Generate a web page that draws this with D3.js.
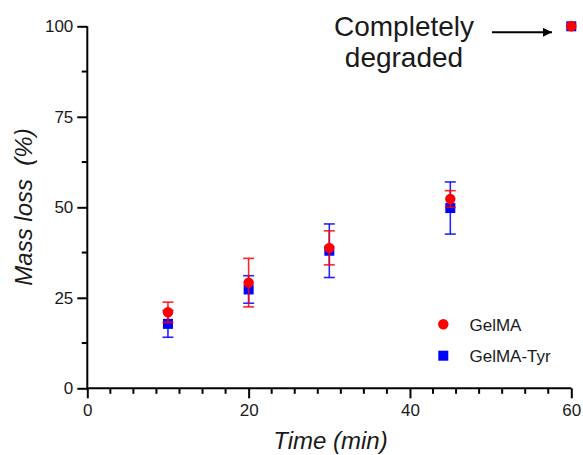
<!DOCTYPE html>
<html>
<head>
<meta charset="utf-8">
<script src="https://cdn.jsdelivr.net/npm/d3@7"></script>
<style>
  html, body { margin: 0; padding: 0; background: #fff; }
  svg { display: block; font-family: "Liberation Sans", Arial, sans-serif; }
</style>
</head>
<body>
<svg id="chart" width="583" height="455"></svg>
<script>
// ---- data ----
const times = [10, 20, 30, 45, 60];
const gelmaMean = [21.0, 29.2, 38.8, 52.3, 100];
const gelmaErr  = [2.8, 6.7, 4.7, 2.3, 0];
const tyrMean   = [17.8, 27.3, 38.0, 49.8, 100];
const tyrErr    = [3.7, 3.8, 7.4, 7.2, 0];
const xTicks = [0, 20, 40, 60];
const yTicks = [0, 25, 50, 75, 100];
const seriesNames = ["GelMA", "GelMA-Tyr"];
const annotation = ["Completely", "degraded"];

// ---- layout ----
const svg = d3.select("#chart");
const x = d3.scaleLinear().domain([0, 60]).range([87.3, 571.3]);
const y = d3.scaleLinear().domain([0, 100]).range([388.3, 26.3]);
const axisColor = "#000";
const textColor = "#1a1a1a";

// minor ticks
const xMinor = d3.range(0, 61, 20 / 7).filter(v => !xTicks.some(t => Math.abs(t - v) < 1e-6));
const yMinor = [12.5, 37.5, 62.5, 87.5];

const xAxis = d3.axisBottom(x).tickValues(xTicks).tickSize(10).tickSizeOuter(0).tickPadding(6).tickFormat(d3.format("d"));
const yAxis = d3.axisLeft(y).tickValues(yTicks).tickSize(10).tickSizeOuter(0).tickPadding(4).tickFormat(d3.format("d"));

const gx = svg.append("g").attr("transform", `translate(0,${y(0)})`).call(xAxis);
const gy = svg.append("g").attr("transform", `translate(${x(0)},0)`).call(yAxis);
[gx, gy].forEach(g => {
  g.select(".domain").attr("stroke", axisColor).attr("stroke-width", 2);
  g.selectAll(".tick line").attr("stroke", axisColor).attr("stroke-width", 2);
  g.selectAll(".tick text").attr("fill", textColor).style("font-size", "17px")
    .style("font-family", "'Liberation Sans', Arial, sans-serif");
});
// extend domains to meet at corner
gx.select(".domain").attr("d", `M${x(0) - 1},0H${x(60)}`);
gy.select(".domain").attr("d", `M0,${y(100)}V${y(0) + 1}`);

svg.append("g").selectAll("line").data(xMinor).join("line")
  .attr("x1", d => x(d)).attr("x2", d => x(d))
  .attr("y1", y(0)).attr("y2", y(0) + 5.5)
  .attr("stroke", axisColor).attr("stroke-width", 2);
svg.append("g").selectAll("line").data(yMinor).join("line")
  .attr("y1", d => y(d)).attr("y2", d => y(d))
  .attr("x1", x(0)).attr("x2", x(0) - 5.5)
  .attr("stroke", axisColor).attr("stroke-width", 2);

// axis titles
svg.append("text").attr("x", 330.5).attr("y", 449)
  .attr("text-anchor", "middle").attr("fill", textColor)
  .style("font-size", "24px").style("font-style", "italic")
  .text("Time (min)");
svg.append("text")
  .attr("transform", "translate(32,207) rotate(-90)")
  .attr("text-anchor", "middle").attr("fill", textColor)
  .style("font-size", "24px").style("font-style", "italic")
  .style("white-space", "pre")
  .text("Mass loss  (%)");

// ---- data marks ----
const capHalf = 5.5;
function drawSeries(means, errs, color, shape) {
  const data = times.map((t, i) => ({ t, m: means[i], e: errs[i] }));
  const g = svg.append("g");
  const eb = g.append("g").attr("stroke", color).attr("stroke-width", 1.6).attr("stroke-opacity", 0.85);
  data.filter(d => d.e > 0).forEach(d => {
    eb.append("line").attr("x1", x(d.t)).attr("x2", x(d.t)).attr("y1", y(d.m - d.e)).attr("y2", y(d.m + d.e));
    eb.append("line").attr("x1", x(d.t) - capHalf).attr("x2", x(d.t) + capHalf).attr("y1", y(d.m + d.e)).attr("y2", y(d.m + d.e));
    eb.append("line").attr("x1", x(d.t) - capHalf).attr("x2", x(d.t) + capHalf).attr("y1", y(d.m - d.e)).attr("y2", y(d.m - d.e));
  });
  if (shape === "circle") {
    g.selectAll("circle").data(data).join("circle")
      .attr("cx", d => x(d.t)).attr("cy", d => y(d.m)).attr("r", 5.2).attr("fill", color);
  } else {
    g.selectAll("rect").data(data).join("rect")
      .attr("x", d => x(d.t) - 5).attr("y", d => y(d.m) - 5)
      .attr("width", 10).attr("height", 10).attr("fill", color);
  }
}
drawSeries(tyrMean, tyrErr, "#0000ff", "square");
drawSeries(gelmaMean, gelmaErr, "#ff0000", "circle");

// ---- legend ----
const lg = svg.append("g");
lg.append("circle").attr("cx", 443.3).attr("cy", 324.3).attr("r", 5.2).attr("fill", "#ff0000");
lg.append("rect").attr("x", 438.3).attr("y", 350.7).attr("width", 10).attr("height", 10).attr("fill", "#0000ff");
lg.selectAll("text").data(seriesNames).join("text")
  .attr("x", 469.5).attr("y", (d, i) => i === 0 ? 330.5 : 361.7)
  .attr("fill", textColor).style("font-size", "17px").text(d => d);

// ---- annotation ----
svg.append("g").selectAll("text").data(annotation).join("text")
  .attr("x", 404).attr("y", (d, i) => 36 + i * 31)
  .attr("text-anchor", "middle").attr("fill", textColor)
  .style("font-size", "28px").text(d => d);
const defs = svg.append("defs");
defs.append("marker").attr("id", "arrow").attr("viewBox", "0 0 10 10")
  .attr("refX", 10).attr("refY", 5).attr("markerWidth", 4.5).attr("markerHeight", 4.5)
  .attr("markerUnits", "strokeWidth").attr("orient", "auto")
  .append("path").attr("d", "M0,0L10,5L0,10Z").attr("fill", "#000");
svg.append("line").attr("x1", 492).attr("x2", 552).attr("y1", 32.3).attr("y2", 32.3)
  .attr("stroke", "#000").attr("stroke-width", 2).attr("marker-end", "url(#arrow)");
</script>
</body>
</html>
